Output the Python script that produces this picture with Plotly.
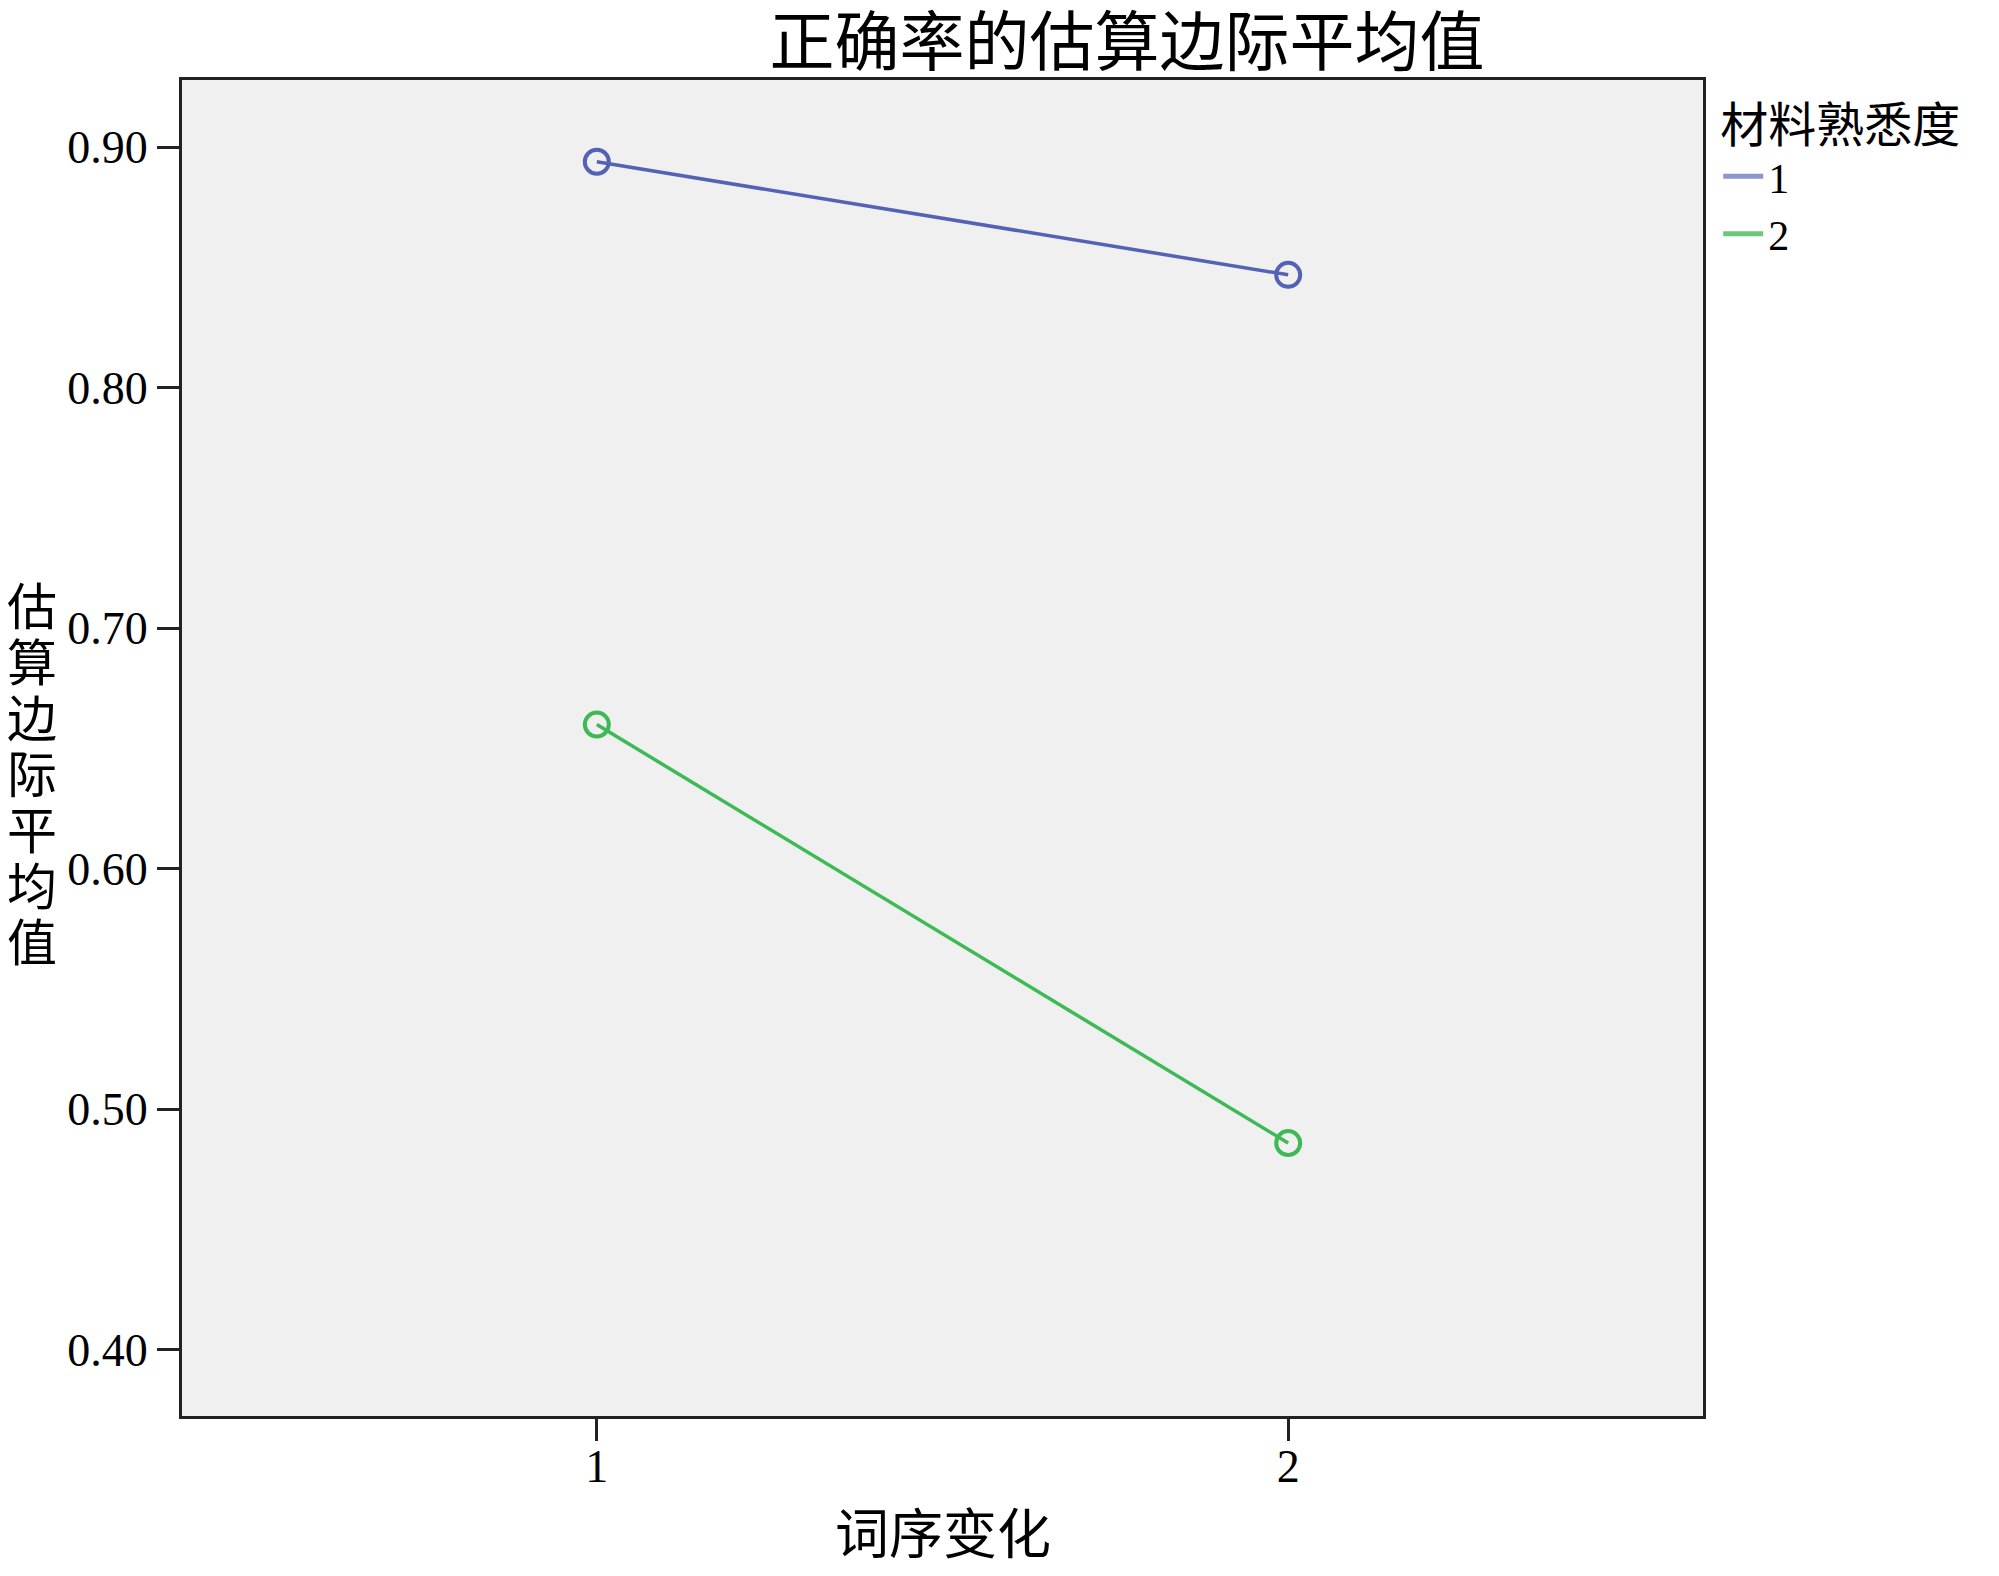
import plotly.graph_objects as go

# Data
x_levels = [1, 2]
x_tick_labels = ["1", "2"]
series_names = ["1", "2"]
series_values = {
    "1": [0.894, 0.847],
    "2": [0.660, 0.486],
}
colors = {"1": "#5462B6", "2": "#3DBA55"}
legend_colors = {"1": "#8C95CC", "2": "#6CC879"}
y_ticks = [0.40, 0.50, 0.60, 0.70, 0.80, 0.90]

title_text = "正确率的估算边际平均值"
x_title = "词序变化"
y_title = "估算边际平均值"
legend_title = "材料熟悉度"

FONT = "Liberation Serif, Times New Roman, Noto Sans CJK SC"

W, H = 1983, 1560
L, T = 174, 72
R = W - 1695
B = H - 1408
PH = H - T - B

fig = go.Figure()
for name in series_names:
    fig.add_trace(go.Scatter(
        x=x_levels, y=series_values[name], mode="lines+markers",
        line=dict(color=colors[name], width=3.5),
        marker=dict(symbol="circle-open", size=24, color=colors[name], line=dict(width=4)),
        showlegend=False, name=name,
    ))
# legend entries (lines only)
for name in series_names:
    fig.add_trace(go.Scatter(
        x=[None], y=[None], mode="lines", name=name,
        line=dict(color=legend_colors[name], width=5),
    ))

fig.update_layout(
    width=W, height=H,
    margin=dict(l=L, r=R, t=T, b=B),
    paper_bgcolor="white", plot_bgcolor="#F0F0F0",
    font=dict(family=FONT, color="black", size=46),
    title=dict(text=title_text, x=1119 / W, xanchor="center", y=1 - 34 / H,
               yanchor="middle", yref="container",
               font=dict(size=65, family=FONT)),
    legend=dict(
        title=dict(text=legend_title, font=dict(size=48, family=FONT)),
        x=1.01, xanchor="left", y=1.0, yanchor="top",
        font=dict(size=42, family=FONT), tracegroupgap=0,
        bgcolor="rgba(0,0,0,0)", itemwidth=40,
    ),
    showlegend=True,
)

fig.update_xaxes(
    range=[0.4, 2.6], tickvals=x_levels, ticktext=x_tick_labels,
    showgrid=False, zeroline=False,
    showline=True, linecolor="#222", linewidth=3, mirror=True,
    ticks="outside", ticklen=22, tickwidth=3, tickcolor="#222",
    tickfont=dict(size=46, family=FONT),
    ticklabelstandoff=-14,
)
fig.update_yaxes(
    range=[0.3725, 0.928], tickvals=y_ticks,
    ticktext=[f"{v:.2f}" for v in y_ticks],
    showgrid=False, zeroline=False,
    showline=True, linecolor="#222", linewidth=3, mirror=True,
    ticks="outside", ticklen=22, tickwidth=3, tickcolor="#222",
    tickfont=dict(size=46, family=FONT),
)

# x axis title
fig.add_annotation(text=x_title, xref="paper", yref="paper", x=0.5, y=(1408 - 1528) / PH,
                   showarrow=False, xanchor="center", yanchor="middle",
                   font=dict(size=54, family=FONT))
# vertical stacked y axis title
for i, ch in enumerate(y_title):
    yc = 600 + 56 * i
    fig.add_annotation(text=ch, xref="paper", yref="paper",
                       x=(24 - L) / (W - L - R), y=(1408 - yc) / PH,
                       showarrow=False, xanchor="center", yanchor="middle",
                       font=dict(size=50, family=FONT))

fig.write_html("out.html")
